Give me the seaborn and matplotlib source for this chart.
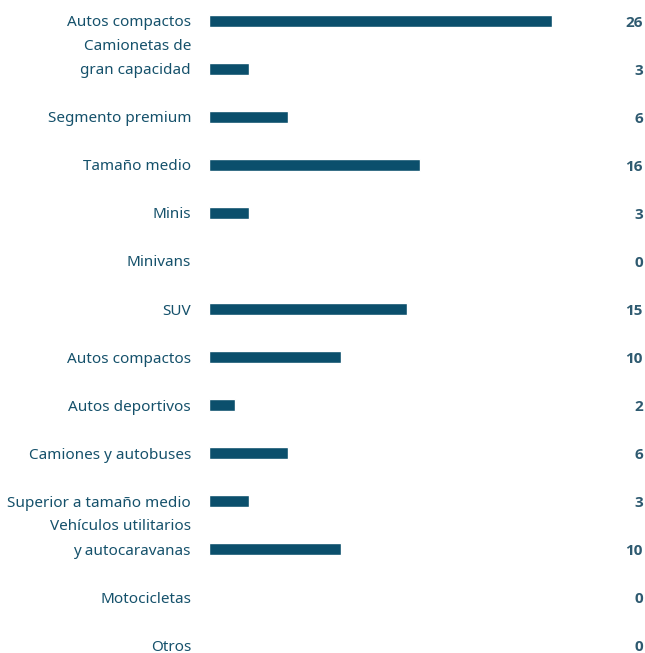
import matplotlib.pyplot as plt
import pandas as pd
import seaborn as sns

# Categorías y valores
categories = ['Autos compactos', 'Camionetas de\ngran capacidad', 'Segmento premium',
              'Tamaño medio', 'Minis', 'Minivans', 'SUV', 'Autos compactos ',
              'Autos deportivos', 'Camiones y autobuses', 'Superior a tamaño medio',
              'Vehículos utilitarios\ny autocaravanas', 'Motocicletas', 'Otros']
values = [26, 3, 6, 16, 3, 0, 15, 10, 2, 6, 3, 10, 0, 0]

bar_color = '#0b4f6c'
label_color = '#15516b'
value_color = '#2e5a70'

sns.set_style('white')
plt.rcParams['font.family'] = ['Noto Sans', 'DejaVu Sans']

df = pd.DataFrame({'cat': categories, 'val': values})

fig = plt.figure(figsize=(6.45, 6.53), dpi=100)
ax = fig.add_axes([209 / 645, 0, 1 - 209 / 645, 1])

sns.barplot(data=df, y='cat', x='val', order=categories, color=bar_color,
            width=0.27, saturation=1, ax=ax)

n = len(categories)
ax.set_xlim(0, 436 / 13.2)
ax.set_ylim(n - 1 + 8 / 48, -21 / 48)
ax.set_yticks([])
ax.set_xticks([])
ax.set_xlabel('')
ax.set_ylabel('')
sns.despine(ax=ax, left=True, bottom=True)

# Etiquetas de categoría (la última línea alineada con la barra)
for i, cat in enumerate(categories):
    lines = cat.strip().split('\n')
    for k, line in enumerate(reversed(lines)):
        ax.annotate(line, xy=(0, i - 0.5 * k), xycoords=('axes fraction', 'data'),
                    xytext=(-18, -2), textcoords='offset pixels',
                    ha='right', va='center', fontsize=11, color=label_color)

# Valores a la derecha
for i, v in enumerate(values):
    ax.annotate(str(v), xy=(1, i), xycoords=('axes fraction', 'data'),
                xytext=(-2, -2), textcoords='offset pixels',
                ha='right', va='center', fontsize=11, fontweight='bold',
                family=['Open Sans', 'DejaVu Sans'], color=value_color)

fig.savefig('out.png', dpi=100)
